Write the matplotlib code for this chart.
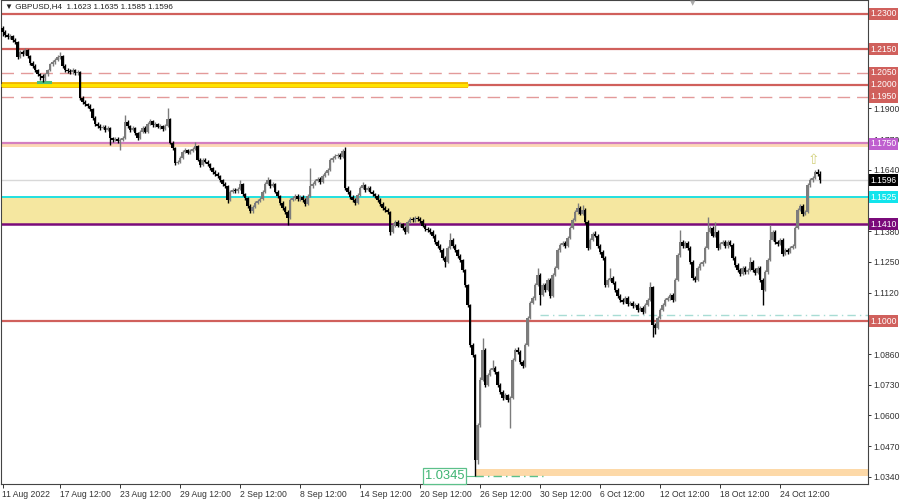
import numpy as np
import matplotlib
matplotlib.use('Agg')
import matplotlib.pyplot as plt
import matplotlib.transforms as mtransforms

plt.rcParams['font.family'] = ['Liberation Sans', 'DejaVu Sans']

# GBPUSD H4 candles (open of bar i = close of bar i-1)
open0 = 1.2241
closes = [
    1.2224, 1.2211, 1.2202, 1.2207, 1.2190, 1.2181, 1.2118, 1.2139, 1.2131, 1.2148,
    1.2122, 1.2093, 1.2080, 1.2063, 1.2046, 1.2038, 1.2029, 1.2046, 1.2063, 1.2088,
    1.2097, 1.2105, 1.2118, 1.2122, 1.2080, 1.2063, 1.2059, 1.2054, 1.2063, 1.2050,
    1.2054, 1.1945, 1.1928, 1.1919, 1.1911, 1.1898, 1.1860, 1.1835, 1.1826, 1.1818,
    1.1822, 1.1809, 1.1818, 1.1775, 1.1767, 1.1771, 1.1763, 1.1767, 1.1775, 1.1843,
    1.1826, 1.1809, 1.1818, 1.1796, 1.1775, 1.1801, 1.1818, 1.1801, 1.1835, 1.1847,
    1.1830, 1.1835, 1.1822, 1.1826, 1.1813, 1.1826, 1.1856, 1.1754, 1.1733, 1.1670,
    1.1674, 1.1691, 1.1716, 1.1724, 1.1712, 1.1720, 1.1729, 1.1741, 1.1682, 1.1661,
    1.1682, 1.1674, 1.1665, 1.1648, 1.1631, 1.1623, 1.1614, 1.1597, 1.1581, 1.1572,
    1.1513, 1.1547, 1.1555, 1.1551, 1.1560, 1.1581, 1.1538, 1.1521, 1.1488, 1.1466,
    1.1483, 1.1500, 1.1509, 1.1517, 1.1547, 1.1581, 1.1597, 1.1572, 1.1581, 1.1547,
    1.1530, 1.1500, 1.1479, 1.1462, 1.1437, 1.1513, 1.1521, 1.1530, 1.1517, 1.1526,
    1.1513, 1.1496, 1.1530, 1.1572, 1.1581, 1.1593, 1.1602, 1.1589, 1.1614, 1.1627,
    1.1640, 1.1682, 1.1691, 1.1699, 1.1703, 1.1695, 1.1720, 1.1564, 1.1547, 1.1526,
    1.1513, 1.1500, 1.1534, 1.1564, 1.1576, 1.1555, 1.1564, 1.1547, 1.1538, 1.1530,
    1.1513, 1.1496, 1.1479, 1.1471, 1.1462, 1.1378, 1.1407, 1.1420, 1.1403, 1.1411,
    1.1395, 1.1378, 1.1420, 1.1433, 1.1428, 1.1437, 1.1433, 1.1424, 1.1403, 1.1390,
    1.1386, 1.1378, 1.1361, 1.1335, 1.1318, 1.1301, 1.1268, 1.1251, 1.1310, 1.1344,
    1.1318, 1.1301, 1.1276, 1.1259, 1.1217, 1.1153, 1.1069, 1.0900, 1.0857, 1.0413,
    1.0561, 1.0752, 1.0878, 1.0730, 1.0773, 1.0794, 1.0802, 1.0785, 1.0730, 1.0701,
    1.0676, 1.0688, 1.0667, 1.0676, 1.0836, 1.0878, 1.0870, 1.0828, 1.0811, 1.0900,
    1.1014, 1.1077, 1.1098, 1.1153, 1.1196, 1.1111, 1.1153, 1.1132, 1.1175, 1.1107,
    1.1196, 1.1225, 1.1301, 1.1323, 1.1331, 1.1318, 1.1352, 1.1395, 1.1428, 1.1462,
    1.1479, 1.1454, 1.1471, 1.1420, 1.1310, 1.1344, 1.1369, 1.1361, 1.1318, 1.1293,
    1.1268, 1.1153, 1.1175, 1.1183, 1.1162, 1.1132, 1.1107, 1.1090, 1.1082, 1.1098,
    1.1073, 1.1077, 1.1065, 1.1069, 1.1048, 1.1056, 1.1039, 1.1069, 1.1090, 1.1145,
    1.0984, 1.0972, 1.1014, 1.1048, 1.1069, 1.1090, 1.1098, 1.1111, 1.1090, 1.1175,
    1.1280, 1.1335, 1.1318, 1.1331, 1.1310, 1.1251, 1.1183, 1.1175, 1.1225, 1.1242,
    1.1251, 1.1310, 1.1378, 1.1395, 1.1361, 1.1378, 1.1310, 1.1327, 1.1335, 1.1318,
    1.1335, 1.1323, 1.1268, 1.1238, 1.1217, 1.1200, 1.1225, 1.1208, 1.1217, 1.1251,
    1.1217, 1.1204, 1.1225, 1.1175, 1.1132, 1.1208, 1.1259, 1.1344, 1.1378, 1.1335,
    1.1327, 1.1344, 1.1285, 1.1301, 1.1293, 1.1310, 1.1318, 1.1395, 1.1471, 1.1488,
    1.1454, 1.1462, 1.1576, 1.1597, 1.1606, 1.1631, 1.1623, 1.1596,
]
highs = [
    1.2249, 1.2232, 1.2220, 1.2215, 1.2212, 1.2199, 1.2186, 1.2146, 1.2147, 1.2156,
    1.2152, 1.2127, 1.2099, 1.2086, 1.2069, 1.2052, 1.2044, 1.2051, 1.2069, 1.2094,
    1.2105, 1.2114, 1.2126, 1.2139, 1.2127, 1.2086, 1.2071, 1.2066, 1.2070, 1.2068,
    1.2062, 1.2060, 1.1951, 1.1934, 1.1925, 1.1917, 1.1903, 1.1866, 1.1841, 1.1832,
    1.1830, 1.1828, 1.1826, 1.1822, 1.1781, 1.1779, 1.1777, 1.1773, 1.1782, 1.1872,
    1.1850, 1.1831, 1.1825, 1.1823, 1.1801, 1.1808, 1.1826, 1.1824, 1.1842, 1.1856,
    1.1852, 1.1843, 1.1840, 1.1833, 1.1831, 1.1834, 1.1902, 1.1861, 1.1760, 1.1738,
    1.1683, 1.1698, 1.1722, 1.1733, 1.1730, 1.1727, 1.1736, 1.1758, 1.1746, 1.1688,
    1.1690, 1.1689, 1.1680, 1.1671, 1.1654, 1.1638, 1.1630, 1.1620, 1.1603, 1.1587,
    1.1577, 1.1554, 1.1562, 1.1563, 1.1568, 1.1597, 1.1586, 1.1544, 1.1527, 1.1494,
    1.1490, 1.1508, 1.1516, 1.1525, 1.1554, 1.1589, 1.1610, 1.1603, 1.1590, 1.1586,
    1.1553, 1.1535, 1.1506, 1.1485, 1.1468, 1.1520, 1.1529, 1.1538, 1.1536, 1.1533,
    1.1532, 1.1519, 1.1537, 1.1648, 1.1589, 1.1601, 1.1610, 1.1608, 1.1621, 1.1635,
    1.1648, 1.1690, 1.1699, 1.1707, 1.1712, 1.1710, 1.1728, 1.1737, 1.1570, 1.1553,
    1.1532, 1.1519, 1.1541, 1.1571, 1.1589, 1.1582, 1.1572, 1.1570, 1.1553, 1.1544,
    1.1536, 1.1519, 1.1502, 1.1486, 1.1477, 1.1467, 1.1414, 1.1428, 1.1426, 1.1419,
    1.1417, 1.1401, 1.1427, 1.1441, 1.1440, 1.1445, 1.1443, 1.1439, 1.1430, 1.1409,
    1.1397, 1.1392, 1.1384, 1.1367, 1.1341, 1.1324, 1.1307, 1.1274, 1.1318, 1.1373,
    1.1350, 1.1324, 1.1306, 1.1282, 1.1264, 1.1222, 1.1158, 1.1074, 1.0908, 1.0862,
    1.0570, 1.0762, 1.0929, 1.0884, 1.0782, 1.0803, 1.0836, 1.0809, 1.0790, 1.0736,
    1.0707, 1.0696, 1.0693, 1.0684, 1.0845, 1.0886, 1.0889, 1.0876, 1.0834, 1.0908,
    1.1022, 1.1085, 1.1107, 1.1161, 1.1225, 1.1202, 1.1161, 1.1160, 1.1183, 1.1180,
    1.1204, 1.1233, 1.1309, 1.1331, 1.1339, 1.1337, 1.1360, 1.1403, 1.1436, 1.1470,
    1.1500, 1.1486, 1.1490, 1.1477, 1.1426, 1.1352, 1.1377, 1.1380, 1.1367, 1.1324,
    1.1299, 1.1274, 1.1184, 1.1225, 1.1189, 1.1168, 1.1138, 1.1113, 1.1097, 1.1106,
    1.1104, 1.1085, 1.1083, 1.1077, 1.1075, 1.1064, 1.1062, 1.1077, 1.1098, 1.1166,
    1.1150, 1.0992, 1.1022, 1.1056, 1.1077, 1.1098, 1.1106, 1.1119, 1.1117, 1.1183,
    1.1288, 1.1386, 1.1343, 1.1339, 1.1337, 1.1316, 1.1257, 1.1190, 1.1233, 1.1250,
    1.1259, 1.1318, 1.1441, 1.1403, 1.1401, 1.1420, 1.1384, 1.1335, 1.1343, 1.1341,
    1.1343, 1.1341, 1.1329, 1.1274, 1.1244, 1.1223, 1.1233, 1.1231, 1.1225, 1.1270,
    1.1257, 1.1223, 1.1233, 1.1231, 1.1181, 1.1216, 1.1267, 1.1407, 1.1386, 1.1384,
    1.1341, 1.1352, 1.1350, 1.1309, 1.1307, 1.1318, 1.1326, 1.1403, 1.1479, 1.1496,
    1.1494, 1.1470, 1.1584, 1.1605, 1.1614, 1.1641, 1.1642, 1.1635,
]
lows = [
    1.2207, 1.2203, 1.2194, 1.2196, 1.2182, 1.2171, 1.2109, 1.2112, 1.2124, 1.2125,
    1.2114, 1.2085, 1.2071, 1.2054, 1.2038, 1.2021, 1.2012, 1.2014, 1.2036, 1.2057,
    1.2080, 1.2090, 1.2099, 1.2110, 1.2073, 1.2055, 1.2050, 1.2046, 1.2047, 1.2042,
    1.2043, 1.1936, 1.1920, 1.1910, 1.1903, 1.1889, 1.1852, 1.1826, 1.1817, 1.1809,
    1.1811, 1.1801, 1.1803, 1.1746, 1.1758, 1.1760, 1.1755, 1.1724, 1.1760, 1.1770,
    1.1819, 1.1802, 1.1803, 1.1789, 1.1766, 1.1769, 1.1795, 1.1794, 1.1796, 1.1829,
    1.1823, 1.1823, 1.1815, 1.1814, 1.1806, 1.1807, 1.1820, 1.1748, 1.1725, 1.1662,
    1.1663, 1.1668, 1.1685, 1.1710, 1.1705, 1.1706, 1.1714, 1.1723, 1.1676, 1.1652,
    1.1655, 1.1667, 1.1657, 1.1640, 1.1623, 1.1614, 1.1606, 1.1589, 1.1572, 1.1564,
    1.1500, 1.1507, 1.1540, 1.1543, 1.1544, 1.1553, 1.1531, 1.1513, 1.1480, 1.1457,
    1.1459, 1.1477, 1.1494, 1.1503, 1.1511, 1.1541, 1.1575, 1.1565, 1.1566, 1.1540,
    1.1522, 1.1492, 1.1471, 1.1453, 1.1407, 1.1430, 1.1506, 1.1514, 1.1510, 1.1510,
    1.1505, 1.1488, 1.1490, 1.1524, 1.1565, 1.1575, 1.1587, 1.1582, 1.1583, 1.1608,
    1.1620, 1.1634, 1.1675, 1.1684, 1.1692, 1.1687, 1.1689, 1.1555, 1.1539, 1.1518,
    1.1505, 1.1491, 1.1494, 1.1528, 1.1558, 1.1548, 1.1549, 1.1540, 1.1530, 1.1522,
    1.1505, 1.1488, 1.1471, 1.1463, 1.1454, 1.1365, 1.1371, 1.1400, 1.1396, 1.1397,
    1.1387, 1.1370, 1.1372, 1.1414, 1.1420, 1.1421, 1.1425, 1.1417, 1.1396, 1.1382,
    1.1378, 1.1370, 1.1353, 1.1327, 1.1310, 1.1293, 1.1259, 1.1229, 1.1245, 1.1304,
    1.1311, 1.1293, 1.1268, 1.1250, 1.1208, 1.1144, 1.1060, 1.0890, 1.0846, 1.0345,
    1.0395, 1.0550, 1.0745, 1.0722, 1.0723, 1.0766, 1.0787, 1.0777, 1.0721, 1.0692,
    1.0667, 1.0668, 1.0658, 1.0549, 1.0670, 1.0829, 1.0862, 1.0820, 1.0803, 1.0805,
    1.0894, 1.1008, 1.1070, 1.1091, 1.1147, 1.1069, 1.1104, 1.1124, 1.1126, 1.1099,
    1.1100, 1.1190, 1.1219, 1.1294, 1.1316, 1.1310, 1.1312, 1.1346, 1.1389, 1.1422,
    1.1455, 1.1447, 1.1448, 1.1412, 1.1302, 1.1304, 1.1338, 1.1354, 1.1311, 1.1285,
    1.1260, 1.1144, 1.1146, 1.1168, 1.1155, 1.1124, 1.1099, 1.1082, 1.1074, 1.1075,
    1.1065, 1.1066, 1.1057, 1.1058, 1.1040, 1.1041, 1.1031, 1.1033, 1.1062, 1.1084,
    1.0934, 1.0945, 1.0965, 1.1008, 1.1041, 1.1062, 1.1083, 1.1091, 1.1082, 1.1084,
    1.1169, 1.1273, 1.1310, 1.1311, 1.1302, 1.1243, 1.1174, 1.1166, 1.1169, 1.1218,
    1.1235, 1.1245, 1.1303, 1.1371, 1.1354, 1.1354, 1.1302, 1.1303, 1.1320, 1.1311,
    1.1311, 1.1316, 1.1260, 1.1230, 1.1209, 1.1192, 1.1194, 1.1200, 1.1201, 1.1210,
    1.1209, 1.1196, 1.1197, 1.1167, 1.1069, 1.1125, 1.1201, 1.1252, 1.1337, 1.1327,
    1.1318, 1.1320, 1.1277, 1.1278, 1.1285, 1.1286, 1.1303, 1.1311, 1.1389, 1.1464,
    1.1446, 1.1447, 1.1456, 1.1569, 1.1590, 1.1600, 1.1615, 1.1585,
]

date_pos = [0, 23, 47, 71, 95, 119, 143, 167, 191, 215, 239, 263, 287, 311]
date_labels = ['11 Aug 2022', '17 Aug 12:00', '23 Aug 12:00', '29 Aug 12:00',
               '2 Sep 12:00', '8 Sep 12:00', '14 Sep 12:00', '20 Sep 12:00',
               '26 Sep 12:00', '30 Sep 12:00', '6 Oct 12:00', '12 Oct 12:00',
               '18 Oct 12:00', '24 Oct 12:00']
price_ticks = [1.0340, 1.0470, 1.0600, 1.0730, 1.0860, 1.0990, 1.1120, 1.1250,
               1.1380, 1.1510, 1.1640, 1.1770, 1.1900, 1.2030, 1.2160, 1.2290]
# tick labels that sit fully under a price box in the terminal
hidden_ticks = [1.0990, 1.1510, 1.2030, 1.2160, 1.2290]

# drawn levels
red_levels = [1.2300, 1.2150, 1.2000, 1.1000]
dashed_levels = [1.2050, 1.1950]
zone_top, zone_bottom = 1.1525, 1.1410
last_price = 1.1596
crash_low = 1.0345

n = len(closes)
assert len(highs) == n and len(lows) == n

x = np.arange(n)
c = np.array(closes)
o = np.array([open0] + closes[:-1])
h = np.array(highs)
l = np.array(lows)
up = c >= o

fig = plt.figure(figsize=(9, 5), dpi=100)
ax = fig.add_axes([1 / 900, 16 / 500, 867 / 900, 484 / 500])
ax.set_xlim(-0.6, 346.2)
ax.set_ylim(1.0310, 1.2359)

RED = '#d0605c'
FS = 6.2

# zones and levels
ax.axhspan(zone_bottom, zone_top, color='#f5e7a0', lw=0, zorder=1)
ax.axhspan(1.1738, 1.1752, color='#fcd9b4', lw=0, zorder=1)
ax.axhline(1.1753, color='#d47fc0', lw=1.6, zorder=2)
ax.fill_between([189, 346.2], 1.0345, 1.0375, color='#fdd9a8', lw=0, zorder=1)
for lv in red_levels:
    ax.axhline(lv, color=RED, lw=1.6, zorder=2)
for lv in dashed_levels:
    ax.axhline(lv, color='#e39a9a', lw=1.0, dashes=(9, 5), zorder=2)
ax.plot([-0.6, 186], [1.2000, 1.2000], color='#f2b400', lw=4.2, zorder=2.5, solid_capstyle='butt')
ax.plot([-0.6, 186], [1.2000, 1.2000], color='#ffe400', lw=2.2, zorder=2.6, solid_capstyle='butt')
ax.axhline(zone_top, color='#22e0e0', lw=1.4, zorder=2)
ax.axhline(zone_bottom, color='#7a0a7a', lw=1.8, zorder=2)
ax.axhline(last_price, color='#d8d8d8', lw=1.0, zorder=2)
ax.plot([215, 346.2], [1.1026, 1.1026], color='#a8dcd4', lw=1.0, dashes=(6, 3, 1, 3), zorder=2)
ax.plot([189, 216], [crash_low, crash_low], color='#5cc08a', lw=1.0, dashes=(6, 3, 1, 3), zorder=3)
ax.plot([14, 19], [1.2010, 1.2010], color='#4cbf7c', lw=2.2, zorder=3)

# candles
bull, bear = '#7c7c7c', '#000000'
ax.vlines(x[up], l[up], h[up], color=bull, lw=1.0, zorder=4)
ax.vlines(x[~up], l[~up], h[~up], color=bear, lw=1.0, zorder=4)
body = np.maximum(np.abs(c - o), 0.00015)
ax.bar(x, body, bottom=np.minimum(o, c), width=0.85,
       color=np.where(up, bull, bear), lw=0, zorder=5)

# crash low marker
ax.plot([185, 189], [crash_low, crash_low], color='#5cc08a', lw=0.8, zorder=3)
ax.text(184.8, crash_low, '1.0345', ha='right', va='center', fontsize=9.3,
        color='#3cb371', zorder=8,
        bbox=dict(boxstyle='square,pad=0.14', fc='white', ec='#5cc08a', lw=0.9))
ax.text(324.3, 1.1683, '\u21e7', ha='center', va='center', fontsize=10,
        color='#d2d07a', zorder=8, family='DejaVu Sans')

# axes styling
for s in ax.spines.values():
    s.set_color('#444444')
    s.set_linewidth(0.8)
ax.yaxis.tick_right()
ax.set_yticks(price_ticks)
ax.set_yticklabels(['' if p in hidden_ticks else '%.4f' % p for p in price_ticks])
ax.tick_params(axis='y', labelsize=FS, colors='#333333', length=2.5, width=0.7, pad=1.5)
ax.set_xticks(date_pos)
ax.set_xticklabels(date_labels, ha='left')
ax.tick_params(axis='x', labelsize=FS, colors='#333333', length=3, width=0.7, pad=1)

# right-hand price boxes
trans = mtransforms.blended_transform_factory(ax.transAxes, ax.transData)
boxes = [(1.2300, '1.2300', RED), (1.2150, '1.2150', RED), (1.2050, '1.2050', RED),
         (1.2000, '1.2000', RED), (1.1950, '1.1950', RED), (1.1750, '1.1750', '#bf5fcf'),
         (1.1596, '1.1596', '#000000'), (1.1525, '1.1525', '#12e4ec'),
         (1.1410, '1.1410', '#7a0a7a'), (1.1000, '1.1000', RED)]
for y, t, fc in boxes:
    ax.text(1.0025, y, t, transform=trans, ha='left', va='center', fontsize=FS,
            color='white', clip_on=False, zorder=10,
            bbox=dict(boxstyle='square,pad=0.18', fc=fc, ec=fc, lw=0))

fig.text(5 / 900, 1 - 7 / 500, '\u25bc GBPUSD,H4  1.1623 1.1635 1.1585 1.1596',
         fontsize=5.9, color='#222222', va='center', ha='left')
fig.text(693 / 900, 1 - 3 / 500, '\u25bc', fontsize=5, color='#aaaaaa', va='center', ha='center',
         family='DejaVu Sans')

fig.savefig('out.png', dpi=100)
